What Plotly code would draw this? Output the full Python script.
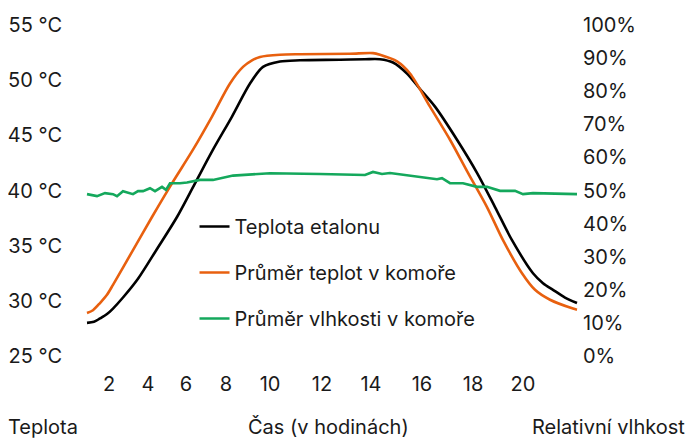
import plotly.graph_objects as go

# time position along the time axis (sample scale) and measured values
etalon_t = [0.0, 0.7, 1.3, 2.0, 2.6, 3.6, 5.1, 7.0, 9.0, 10.8, 12.6, 14.5, 16.3, 17.6, 19.3, 21.3,
            25.3, 27.8, 29.3, 30.6, 32.0, 33.3, 34.8, 37.0, 39.0, 40.8, 42.5, 44.6, 45.6, 46.6, 47.8, 49.0]
etalon_temp = [28.0, 28.1, 28.4, 28.8, 29.3, 30.3, 32.0, 34.7, 37.6, 40.65, 43.7, 46.7, 49.7, 51.2, 51.7, 51.8,
               51.85, 51.9, 51.9, 51.6, 50.6, 49.2, 47.6, 44.6, 41.6, 38.5, 35.5, 32.5, 31.6, 31.0, 30.3, 29.8]

chamber_t = [0.0, 0.6, 1.3, 2.0, 2.6, 4.6, 6.5, 8.5, 10.6, 12.5, 14.3, 15.6, 16.5, 17.3, 19.3, 21.3,
             26.3, 28.6, 29.3, 31.0, 32.3, 34.3, 36.3, 38.1, 40.0, 41.6, 43.5, 44.8, 46.3, 48.6, 49.0]
chamber_temp = [28.9, 29.15, 29.8, 30.55, 31.45, 34.6, 37.6, 40.65, 43.7, 46.7, 49.7, 51.2, 51.8, 52.1, 52.3, 52.35,
                52.4, 52.45, 52.3, 51.7, 50.6, 47.6, 44.6, 41.6, 38.5, 35.5, 32.5, 31.0, 30.1, 29.3, 29.2]

humid_t = [0.0, 1.0, 1.8, 2.6, 3.0, 3.6, 4.6, 5.1, 5.6, 6.3, 6.8, 7.5, 7.9, 8.3, 9.3, 10.0, 11.3, 12.6,
           14.6, 16.0, 18.3, 23.3, 27.8, 28.6, 29.5, 30.3, 32.6, 35.0, 35.5, 36.3, 37.6, 39.0, 40.0,
           41.3, 42.8, 43.6, 44.6, 49.0]
humid_val = [48.9, 48.3, 49.2, 48.9, 48.3, 49.8, 48.9, 49.8, 49.8, 50.7, 49.8, 51.1, 50.2, 52.2, 52.2, 52.4,
             53.2, 53.2, 54.5, 54.7, 55.2, 55.0, 54.7, 55.6, 55.0, 55.3, 54.4, 53.4, 53.7, 52.2, 52.2,
             51.1, 51.1, 49.9, 49.9, 48.9, 49.2, 48.9]

x_tick_pos = [2.2, 6.1, 9.9, 13.9, 18.3, 23.5, 28.4, 33.5, 38.6, 43.6]
x_tick_text = ["2", "4", "6", "8", "10", "12", "14", "16", "18", "20"]

y_tick_vals = [25, 30, 35, 40, 45, 50, 55]
y_tick_text = ["25 °C", "30 °C", "35 °C", "40 °C", "45 °C", "50 °C", "55 °C"]
y2_tick_vals = [0, 10, 20, 30, 40, 50, 60, 70, 80, 90, 100]
y2_tick_text = [f"{v}%" for v in y2_tick_vals]

FONT = "Inter"
TXT = "#1a1a1a"
FS = 20

fig = go.Figure()
fig.add_trace(go.Scatter(x=etalon_t, y=etalon_temp, mode="lines", name="Teplota etalonu",
                         line=dict(color="#000000", width=2.6, shape="spline", smoothing=0.8),
                         legendgroup="a"))
fig.add_trace(go.Scatter(x=chamber_t, y=chamber_temp, mode="lines", name="Průměr teplot v komoře",
                         line=dict(color="#E8600F", width=2.6, shape="spline", smoothing=0.8),
                         legendgroup="b"))
fig.add_trace(go.Scatter(x=humid_t, y=humid_val, mode="lines", name="Průměr vlhkosti v komoře",
                         line=dict(color="#14A85C", width=2.6), yaxis="y2", legendgroup="c"))

fig.update_layout(
    width=685, height=431,
    margin=dict(l=55, r=111, t=17, b=83),
    paper_bgcolor="white", plot_bgcolor="white",
    font=dict(family=FONT, size=FS, color=TXT),
    showlegend=True,
    legend=dict(x=0.2534, y=0.45, xanchor="left", yanchor="top", bgcolor="rgba(0,0,0,0)",
                tracegroupgap=17, traceorder="grouped", font=dict(size=FS), itemwidth=30),
    xaxis=dict(range=[-2.4, 49.5], tickmode="array", tickvals=x_tick_pos, ticktext=x_tick_text,
               showgrid=False, zeroline=False, showline=False, ticks="", ticklabelstandoff=14,
               automargin=False),
    yaxis=dict(range=[25, 55], tickmode="array", tickvals=y_tick_vals, ticktext=y_tick_text,
               showgrid=False, zeroline=False, showline=False, ticks="", automargin=False),
    yaxis2=dict(range=[0, 100], overlaying="y", side="right", tickmode="array",
                tickvals=y2_tick_vals, ticktext=y2_tick_text,
                showgrid=False, zeroline=False, showline=False, ticks="", automargin=False),
    annotations=[
        dict(text="Teplota", xref="paper", yref="paper", x=-0.109, y=-0.214,
             xanchor="left", yanchor="middle", showarrow=False, font=dict(size=FS, color=TXT)),
        dict(text="Čas (v hodinách)", xref="paper", yref="paper", x=0.5106, y=-0.214,
             xanchor="center", yanchor="middle", showarrow=False, font=dict(size=FS, color=TXT)),
        dict(text="Relativní vlhkost", xref="paper", yref="paper", x=1.203, y=-0.214,
             xanchor="right", yanchor="middle", showarrow=False, font=dict(size=FS, color=TXT)),
    ],
)

fig.write_html("out.html")
